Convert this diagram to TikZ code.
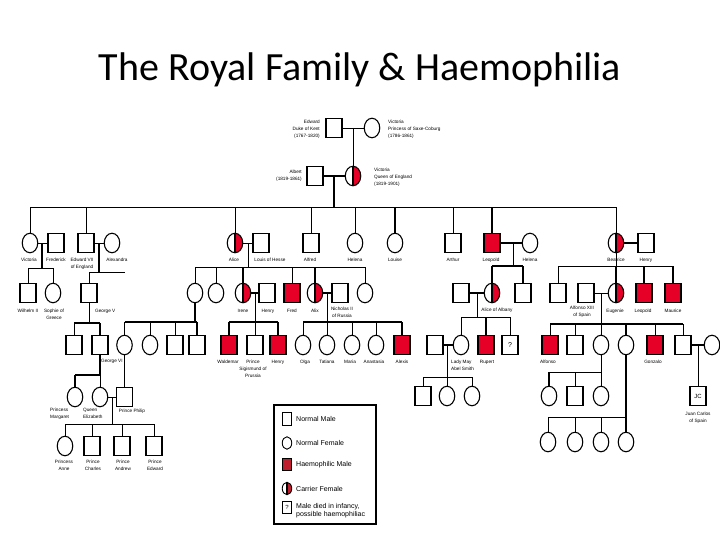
\documentclass[tikz,border=0pt]{standalone}
\usepackage{fontspec}
\setmainfont{Liberation Sans}
\newfontfamily\titlefont{Carlito}
\usetikzlibrary{shapes.geometric}
\definecolor{hred}{RGB}{230,0,40}
\definecolor{lred}{RGB}{190,30,45}
\begin{document}
\begin{tikzpicture}[x=1pt,y=-1pt,
 sh/.style={draw=black,line width=1.1pt,inner sep=0pt,outer sep=0pt,minimum width=16pt,minimum height=19pt},
 male/.style={sh,rectangle},
 fem/.style={sh,ellipse,minimum width=15.5pt,minimum height=19.5pt},
 hm/.style={male,fill=hred},
 carr/.style={fem,path picture={\fill[#1] (path picture bounding box.north) rectangle (path picture bounding box.south east);\draw[line width=1.1pt] (path picture bounding box.north)--(path picture bounding box.south);}},
 carr/.default=hred,
 ln/.style={line width=0.9pt},
 tk/.style={line width=1.9pt},
 lab/.style={font=\fontsize{4.7}{7}\selectfont,align=center,inner sep=0pt,anchor=north},
 lsym/.style={minimum width=9.5pt,minimum height=12.5pt,line width=0.9pt},
 ltx/.style={font=\fontsize{7}{8}\selectfont,anchor=west,inner sep=0pt,align=left}
 ]
\useasboundingbox (0,0) rectangle (720,540);
\fill[white] (0,0) rectangle (720,540);
\node[font=\titlefont\fontsize{40}{44}\selectfont,anchor=base,inner sep=0pt] (title) at (360,81) {The Royal Family \& Haemophilia};
% generation 0 and 1
\node[male] (edw) at (334,128) {};
\node[fem] (vsc) at (372,128) {};
\node[male] (alb) at (315,176) {};
\node[carr] (qv) at (353,176) {};
% generation 2
\node[fem] (vic) at (30,243) {};
\node[male] (frd) at (56,243) {};
\node[male] (ed7) at (86,243) {};
\node[fem] (alx) at (112,243) {};
\node[carr] (ali) at (235,243) {};
\node[male] (lou) at (261,243) {};
\node[male] (alf) at (311,243) {};
\node[fem] (hel) at (355,243) {};
\node[fem] (lse) at (395,243) {};
\node[male] (art) at (453,243) {};
\node[hm] (leo) at (492,243) {};
\node[fem] (hlw) at (530,243) {};
\node[carr] (bea) at (616,243) {};
\node[male] (hnb) at (646,243) {};
% generation 3
\node[male] (wil) at (28,293) {};
\node[fem] (sop) at (53,293) {};
\node[male] (gv) at (89,293) {};
\node[fem] (vh) at (195,293) {};
\node[fem] (ela) at (216,293) {};
\node[carr] (ire) at (243,293) {};
\node[male] (hnp) at (267,293) {};
\node[hm] (frh) at (292,293) {};
\node[carr] (alix) at (315,293) {};
\node[male] (nic) at (340,293) {};
\node[fem] (may) at (365,293) {};
\node[male] (alt) at (461,293) {};
\node[carr] (ala) at (492,293) {};
\node[male] (che) at (523,293) {};
\node[male] (axb) at (558,293) {};
\node[male] (a13) at (586,293) {};
\node[carr] (eug) at (616,293) {};
\node[hm] (lob) at (644,293) {};
\node[hm] (mau) at (673,293) {};
% generation 4
\node[male] (e8) at (74,345) {};
\node[male] (g6) at (100,345) {};
\node[fem] (ab) at (124.5,345) {};
\node[fem] (lb) at (150,345) {};
\node[male] (gb) at (175,345) {};
\node[male] (lm) at (197,345) {};
\node[hm] (wal) at (229,345) {};
\node[male] (sig) at (255,345) {};
\node[hm] (hj) at (278,345) {};
\node[fem] (olg) at (303,345) {};
\node[fem] (tat) at (327,345) {};
\node[fem] (mar) at (352,345) {};
\node[fem] (ana) at (376,345) {};
\node[hm] (axs) at (402,345) {};
\node[male] (ams) at (435,345) {};
\node[fem] (lmy) at (461,345) {};
\node[hm] (rup) at (486,345) {};
\node[male,font=\fontsize{7}{7}\selectfont] (inf) at (510,345) {?};
\node[hm] (afj) at (550,345) {};
\node[male] (jai) at (575,345) {};
\node[fem] (btz) at (601,345) {};
\node[fem] (mcr) at (626,345) {};
\node[hm] (gon) at (655,345) {};
\node[male] (jua) at (683,345) {};
\node[fem] (jw) at (712,345) {};
% generation 5
\node[fem] (mgt) at (75,397) {};
\node[fem] (eli) at (100,397) {};
\node[male] (phi) at (124.5,397) {};
\node[male] (s1) at (423,396) {};
\node[fem] (s2) at (447,396) {};
\node[fem] (s3) at (472,396) {};
\node[fem] (b1k) at (549,396) {};
\node[male] (b2k) at (575,396) {};
\node[fem] (b3k) at (601,396) {};
\node[male,font=\fontsize{6}{6}\selectfont] (jc) at (698,396) {JC};
% generation 6
\node[fem] (ann) at (65,446) {};
\node[male] (cha) at (92,446) {};
\node[male] (and) at (122,446) {};
\node[male] (edd) at (154,446) {};
\node[fem] (m1) at (548,442) {};
\node[fem] (m2) at (575,442) {};
\node[fem] (m3) at (601,442) {};
\node[fem] (m4) at (626,442) {};
% connectors: top
\draw[ln] (edw) -- (vsc);
\coordinate (j0) at (353,128);
\draw[ln] (j0) -- (qv);
\draw[tk] (alb) -- (qv);
\coordinate (j1) at (334,176); \coordinate (r1) at (334,207);
\draw[tk] (j1) -- (r1);
\coordinate (r1a) at (30,207); \coordinate (r1b) at (616,207);
\draw[ln] (r1a) -- (r1b);
\foreach \n in {vic,ed7,ali,alf,hel,art,bea} \draw[ln] (\n) -- (\n |- r1);
\foreach \n in {lse,leo} \draw[tk] (\n) -- (\n |- r1);
% Victoria + Frederick
\draw[ln] (vic) -- (frd);
\coordinate (j2) at (42,243); \coordinate (r2) at (42,268);
\draw[tk] (j2) -- (r2);
\coordinate (r2a) at (28,268); \coordinate (r2b) at (53,268);
\draw[ln] (r2a) -- (r2b);
\draw[ln] (wil) -- (wil |- r2); \draw[ln] (sop) -- (sop |- r2);
% Edward VII + Alexandra
\draw[ln] (ed7) -- (alx);
\coordinate (j3) at (99,243); \coordinate (r3) at (99,272);
\draw[tk] (j3) -- (r3);
\coordinate (r3a) at (89,272); \coordinate (r3b) at (125,272);
\draw[ln] (r3a) -- (r3b);
\draw[ln] (gv) -- (gv |- r3);
% George V
\coordinate (r4) at (89,323);
\draw[ln] (gv) -- (r4);
\coordinate (r4a) at (74,323); \coordinate (r4b) at (100,323);
\draw[tk] (r4a) -- (r4b);
\draw[ln] (e8) -- (e8 |- r4); \draw[tk] (g6) -- (g6 |- r4);
% Alice + Louis
\draw[ln] (ali) -- (lou);
\coordinate (j5) at (248,243); \coordinate (r5) at (248,267);
\draw[ln] (j5) -- (r5);
\coordinate (r5a) at (195,267); \coordinate (r5b) at (365,267);
\draw[ln] (r5a) -- (r5b);
\foreach \n in {vh,ela,frh,may} \draw[ln] (\n) -- (\n |- r5);
\foreach \n in {ire,alix} \draw[tk] (\n) -- (\n |- r5);
% Victoria of Hesse
\coordinate (r6) at (195,322);
\draw[tk] (vh) -- (r6);
\coordinate (r6a) at (124.5,322); \coordinate (r6b) at (197,322);
\draw[tk] (r6a) -- (r6b);
\foreach \n in {ab,lb,gb} \draw[ln] (\n) -- (\n |- r6);
\draw[tk] (lm) -- (lm |- r6);
% Irene + Henry
\draw[tk] (ire) -- (hnp);
\coordinate (j7) at (255,293); \coordinate (r7) at (255,322);
\draw[ln] (j7) -- (r7);
\coordinate (r7a) at (229,322); \coordinate (r7b) at (278,322);
\draw[tk] (r7a) -- (r7b);
\draw[tk] (wal) -- (wal |- r7); \draw[ln] (sig) -- (sig |- r7); \draw[tk] (hj) -- (hj |- r7);
% Alix + Nicholas
\draw[tk] (alix) -- (nic);
\coordinate (j8) at (327,293); \coordinate (r8) at (327,322);
\draw[ln] (j8) -- (r8);
\coordinate (r8a) at (303,322); \coordinate (r8b) at (402,322);
\draw[tk] (r8a) -- (r8b);
\foreach \n in {olg,tat,mar,ana} \draw[ln] (\n) -- (\n |- r8);
\draw[tk] (axs) -- (axs |- r8);
% Leopold + Helena
\draw[tk] (leo) -- (hlw);
\coordinate (j9) at (513,243); \coordinate (r9) at (513,266);
\draw[ln] (j9) -- (r9);
\coordinate (r9a) at (492,266); \coordinate (r9b) at (523,266);
\draw[tk] (r9a) -- (r9b);
\draw[tk] (ala) -- (ala |- r9); \draw[tk] (che) -- (che |- r9);
% Alexander + Alice of Albany
\draw[tk] (alt) -- (ala);
\coordinate (j10) at (477,293); \coordinate (r10) at (477,317);
\draw[ln] (j10) -- (r10);
\coordinate (r10a) at (461,317); \coordinate (r10b) at (510,317);
\draw[ln] (r10a) -- (r10b);
\draw[ln] (lmy) -- (lmy |- r10); \draw[tk] (rup) -- (rup |- r10); \draw[ln] (inf) -- (inf |- r10);
% Lady May
\draw[tk] (ams) -- (lmy);
\coordinate (j11) at (447,345); \coordinate (r11) at (447,377);
\draw[ln] (j11) -- (r11);
\coordinate (r11a) at (423,377); \coordinate (r11b) at (472,377);
\draw[ln] (r11a) -- (r11b);
\foreach \n in {s1,s2,s3} \draw[ln] (\n) -- (\n |- r11);
% Beatrice + Henry
\draw[tk] (bea) -- (hnb);
\coordinate (r12) at (616,266);
\draw[ln] (bea) -- (r12);
\coordinate (r12a) at (558,266); \coordinate (r12b) at (673,266);
\draw[ln] (r12a) -- (r12b);
\draw[ln] (axb) -- (axb |- r12);
\foreach \n in {eug,lob,mau} \draw[tk] (\n) -- (\n |- r12);
% Alfonso XIII + Eugenie
\draw[ln] (a13) -- (eug);
\coordinate (j13) at (601,293); \coordinate (r13) at (601,324);
\draw[ln] (j13) -- (r13);
\coordinate (r13a) at (550,324); \coordinate (r13b) at (683,324);
\draw[tk] (r13a) -- (r13b);
\foreach \n in {afj,jai,btz,gon,jua} \draw[ln] (\n) -- (\n |- r13);
\draw[tk] (mcr) -- (mcr |- r13);
% Beatriz
\coordinate (r14) at (601,372);
\draw[ln] (btz) -- (r14);
\coordinate (r14a) at (549,372);
\draw[ln] (r14a) -- (r14);
\draw[tk] (b1k) -- (b1k |- r14); \draw[ln] (b2k) -- (b2k |- r14); \draw[ln] (b3k) -- (b3k |- r14);
% Maria Cristina
\draw[tk] (mcr) -- (m4);
\coordinate (r15a) at (548,417); \coordinate (r15) at (626,417);
\draw[ln] (r15a) -- (r15);
\foreach \n in {m1,m2,m3} \draw[ln] (\n) -- (\n |- r15);
% Juan
\draw[tk] (jua) -- (jw);
\coordinate (j16) at (698,345);
\draw[ln] (j16) -- (jc);
% George VI
\coordinate (r17) at (100,375);
\draw[tk] (g6) -- (r17);
\coordinate (r17a) at (75,375);
\draw[tk] (r17a) -- (r17);
\draw[tk] (mgt) -- (mgt |- r17); \draw[ln] (eli) -- (eli |- r17);
% Alice of Battenberg to Philip
\draw[ln] (ab) -- (phi);
% Elizabeth + Philip
\draw[ln] (eli) -- (phi);
\coordinate (j18) at (112,397); \coordinate (r18) at (112,424);
\draw[ln] (j18) -- (r18);
\coordinate (r18a) at (65,424); \coordinate (r18b) at (154,424);
\draw[ln] (r18a) -- (r18b);
\foreach \n in {ann,cha,and,edd} \draw[ln] (\n) -- (\n |- r18);
% labels
\node[lab,anchor=north east,align=right] (tedw) at (320,119.5) {Edward\\Duke of Kent\\(1767-1820)};
\node[lab,anchor=north west,align=left] (tvsc) at (388,119.5) {Victoria\\Princess of Saxe-Coburg\\(1786-1861)};
\node[lab,anchor=north east,align=right] (talb) at (302,169.5) {Albert\\(1819-1861)};
\node[lab,anchor=north west,align=left] (tqv) at (374,167.5) {Victoria\\Queen of England\\(1819-1901)};
\node[lab] (tvic) at (29,257.5) {Victoria};
\node[lab] (tfrd) at (56,257.5) {Frederick};
\node[lab] (ted7) at (82,257.5) {Edward VII\\of England};
\node[lab] (talx) at (117,257.5) {Alexandra};
\node[lab] (tali) at (234,258) {Alice};
\node[lab] (tlou) at (270,258) {Louis of Hesse};
\node[lab] (talf) at (310,258) {Alfred};
\node[lab] (thel) at (355,258) {Helena};
\node[lab] (tlse) at (395,258) {Louise};
\node[lab] (tart) at (453,258) {Arthur};
\node[lab] (tleo) at (491,258) {Leopold};
\node[lab] (thlw) at (530,258) {Helena};
\node[lab] (tbea) at (616,258) {Beatrice};
\node[lab] (thnb) at (646,258) {Henry};
\node[lab] (twil) at (28,309) {Wilhelm II};
\node[lab] (tsop) at (54,309) {Sophie of\\Greece};
\node[lab,anchor=north west] (tgv) at (95,309) {George V};
\node[lab] (tire) at (243,309) {Irene};
\node[lab] (thnp) at (268,309) {Henry};
\node[lab] (tfrh) at (292,309) {Fred};
\node[lab] (talix) at (315,309) {Alix};
\node[lab] (tnic) at (342,307) {Nicholas II\\of Russia};
\node[lab] (tala) at (497,308) {Alice of Albany};
\node[lab] (ta13) at (582,306) {Alfonso XIII\\of Spain};
\node[lab] (teug) at (615,309) {Eugenie};
\node[lab] (tlob) at (643,309) {Leopold};
\node[lab] (tmau) at (673,309) {Maurice};
\node[lab,anchor=north west] (tg6) at (101,359) {George VI};
\node[lab] (twal) at (228,360) {Waldemar};
\node[lab] (tsig) at (253,360) {Prince\\Sigismund of\\Prussia};
\node[lab] (thj) at (278,360) {Henry};
\node[lab] (tolg) at (305,360) {Olga};
\node[lab] (ttat) at (327,360) {Tatiana};
\node[lab] (tmar) at (350,360) {Maria};
\node[lab] (tana) at (374,360) {Anastasia};
\node[lab] (taxs) at (402,360) {Alexis};
\node[lab,anchor=north west,align=left] (tlmy) at (451,360) {Lady May\\Abel Smith};
\node[lab] (trup) at (487,360) {Rupert};
\node[lab] (tafj) at (548,360) {Alfonso};
\node[lab] (tgon) at (653,360) {Gonzalo};
\node[lab,anchor=north west,align=left] (tmgt) at (50,408) {Princess\\Margaret};
\node[lab,anchor=north west,align=left] (teli) at (83,408) {Queen\\Elizabeth};
\node[lab] (tphi) at (132,409) {Prince Philip};
\node[lab] (tjc) at (698,412) {Juan Carlos\\of Spain};
\node[lab] (tann) at (64,460) {Princess\\Anne};
\node[lab] (tcha) at (93,460) {Prince\\Charles};
\node[lab] (tand) at (123,460) {Prince\\Andrew};
\node[lab] (tedd) at (155,460) {Prince\\Edward};
% legend
\node[draw,line width=1.4pt,minimum width=102pt,minimum height=119pt,inner sep=0pt] (leg) at (325,464.5) {};
\node[male,lsym] (k1) at (287,419) {};
\node[fem,lsym] (k2) at (287,443) {};
\node[male,lsym,fill=lred] (k3) at (287,464.5) {};
\node[carr=lred,lsym] (k4) at (287,488.5) {};
\node[male,lsym,font=\fontsize{6}{6}\selectfont] (k5) at (287,507.5) {?};
\node[ltx] (tk1) at (296,419) {Normal Male};
\node[ltx] (tk2) at (296,443) {Normal Female};
\node[ltx] (tk3) at (296,464.5) {Haemophilic Male};
\node[ltx] (tk4) at (296,488.5) {Carrier Female};
\node[ltx,anchor=north west] (tk5) at (296,503) {Male died in infancy,\\possible haemophiliac};
\end{tikzpicture}
\end{document}
